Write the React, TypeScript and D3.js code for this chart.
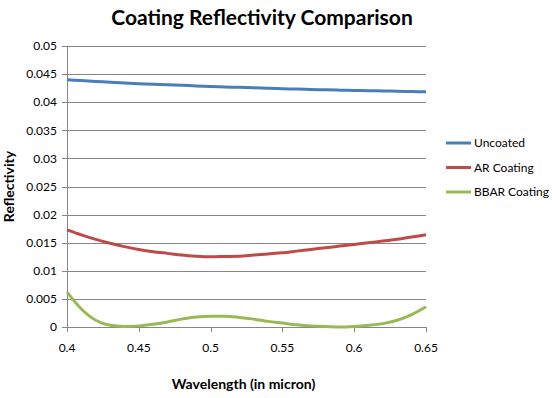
import React from 'react';
import * as d3 from 'd3';

const wavelengths = [0.4, 0.41, 0.42, 0.43, 0.44, 0.45, 0.46, 0.47, 0.48, 0.49, 0.5, 0.51, 0.52, 0.53, 0.54, 0.55, 0.56, 0.57, 0.58, 0.59, 0.6, 0.61, 0.62, 0.63, 0.64, 0.65];
const uncoated = [0.044, 0.04385, 0.0437, 0.04355, 0.0434, 0.0433, 0.0432, 0.0431, 0.043, 0.0429, 0.0428, 0.04272, 0.04264, 0.04256, 0.04248, 0.0424, 0.04233, 0.04226, 0.0422, 0.04214, 0.0421, 0.04205, 0.042, 0.04195, 0.0419, 0.04185];
const arCoating = [0.0173, 0.0164, 0.0156, 0.0149, 0.0143, 0.0138, 0.0134, 0.0131, 0.0128, 0.0126, 0.0125, 0.01255, 0.0126, 0.0128, 0.013, 0.0132, 0.0135, 0.0138, 0.0141, 0.0144, 0.0147, 0.015, 0.0153, 0.0156, 0.016, 0.0164];
const bbarCoating = [0.0062, 0.0032, 0.0012, 0.0003, 0.0001, 0.0002, 0.0005, 0.0009, 0.0014, 0.0018, 0.0019, 0.0019, 0.0017, 0.0014, 0.001, 0.0007, 0.0004, 0.0002, 0.0001, 0.0, 0.0001, 0.0003, 0.0006, 0.0012, 0.0022, 0.0036];
const yTicks = [0, 0.005, 0.01, 0.015, 0.02, 0.025, 0.03, 0.035, 0.04, 0.045, 0.05];
const xTicks = [0.4, 0.45, 0.5, 0.55, 0.6, 0.65];

const series = [
  { name: 'Uncoated', values: uncoated, color: '#4a7ebb' },
  { name: 'AR Coating', values: arCoating, color: '#be4b48' },
  { name: 'BBAR Coating', values: bbarCoating, color: '#98b954' },
];

const FONT = 'Lato, "Open Sans", sans-serif';
const MARGIN = { top: 46, right: 126, bottom: 71, left: 67 };

export default function App() {
  const width = 552;
  const height = 398;
  const innerW = width - MARGIN.left - MARGIN.right;
  const innerH = height - MARGIN.top - MARGIN.bottom;

  const x = d3.scaleLinear().domain([0.4, 0.65]).range([0, innerW]);
  const y = d3.scaleLinear().domain([0, 0.05]).range([innerH, 0]);

  const line = d3
    .line<number>()
    .x((_, i) => x(wavelengths[i]))
    .y((d) => y(d))
    .curve(d3.curveMonotoneX);

  return (
    <svg width={width} height={height} style={{ position: 'absolute', left: 0, top: 0, background: '#fff' }} fontFamily={FONT}>
      <rect width={width} height={height} fill="#fff" />
      <text x={262} y={25} textAnchor="middle" fontSize={21} fontWeight="bold" fill="#000">
        Coating Reflectivity Comparison
      </text>
      <g transform={`translate(${MARGIN.left},${MARGIN.top})`}>
        {yTicks.map((t) => (
          <g key={t}>
            <line x1={-5} x2={innerW} y1={Math.round(y(t)) + 0.5} y2={Math.round(y(t)) + 0.5} stroke="#868686" strokeWidth={1} />
            <text x={-10} y={y(t)} dy="0.35em" textAnchor="end" fontSize={12} fill="#000">
              {t}
            </text>
          </g>
        ))}
        <line x1={0.5} x2={0.5} y1={0} y2={innerH} stroke="#868686" />
        {xTicks.map((t) => (
          <g key={t}>
            <line x1={Math.round(x(t)) + 0.5} x2={Math.round(x(t)) + 0.5} y1={innerH} y2={innerH + 5} stroke="#868686" />
            <text x={x(t)} y={innerH + 25} textAnchor="middle" fontSize={12} fill="#000">
              {t}
            </text>
          </g>
        ))}
        {series.map((s) => (
          <path key={s.name} d={line(s.values) ?? ''} fill="none" stroke={s.color} strokeWidth={3} strokeLinejoin="round" />
        ))}
      </g>
      <text transform={`translate(14,${MARGIN.top + innerH / 2}) rotate(-90)`} textAnchor="middle" fontSize={14} fontWeight="bold" fill="#000">
        Reflectivity
      </text>
      <text x={MARGIN.left + innerW / 2 - 3} y={389} textAnchor="middle" fontSize={14} fontWeight="bold" fill="#000">
        Wavelength (in micron)
      </text>
      <g transform="translate(446,143)">
        {series.map((s, i) => (
          <g key={s.name} transform={`translate(0,${i * 24.5})`}>
            <line x1={0} x2={25} y1={0} y2={0} stroke={s.color} strokeWidth={3} />
            <text x={28} y={0} dy="0.35em" fontSize={12} fill="#000">
              {s.name}
            </text>
          </g>
        ))}
      </g>
    </svg>
  );
}
